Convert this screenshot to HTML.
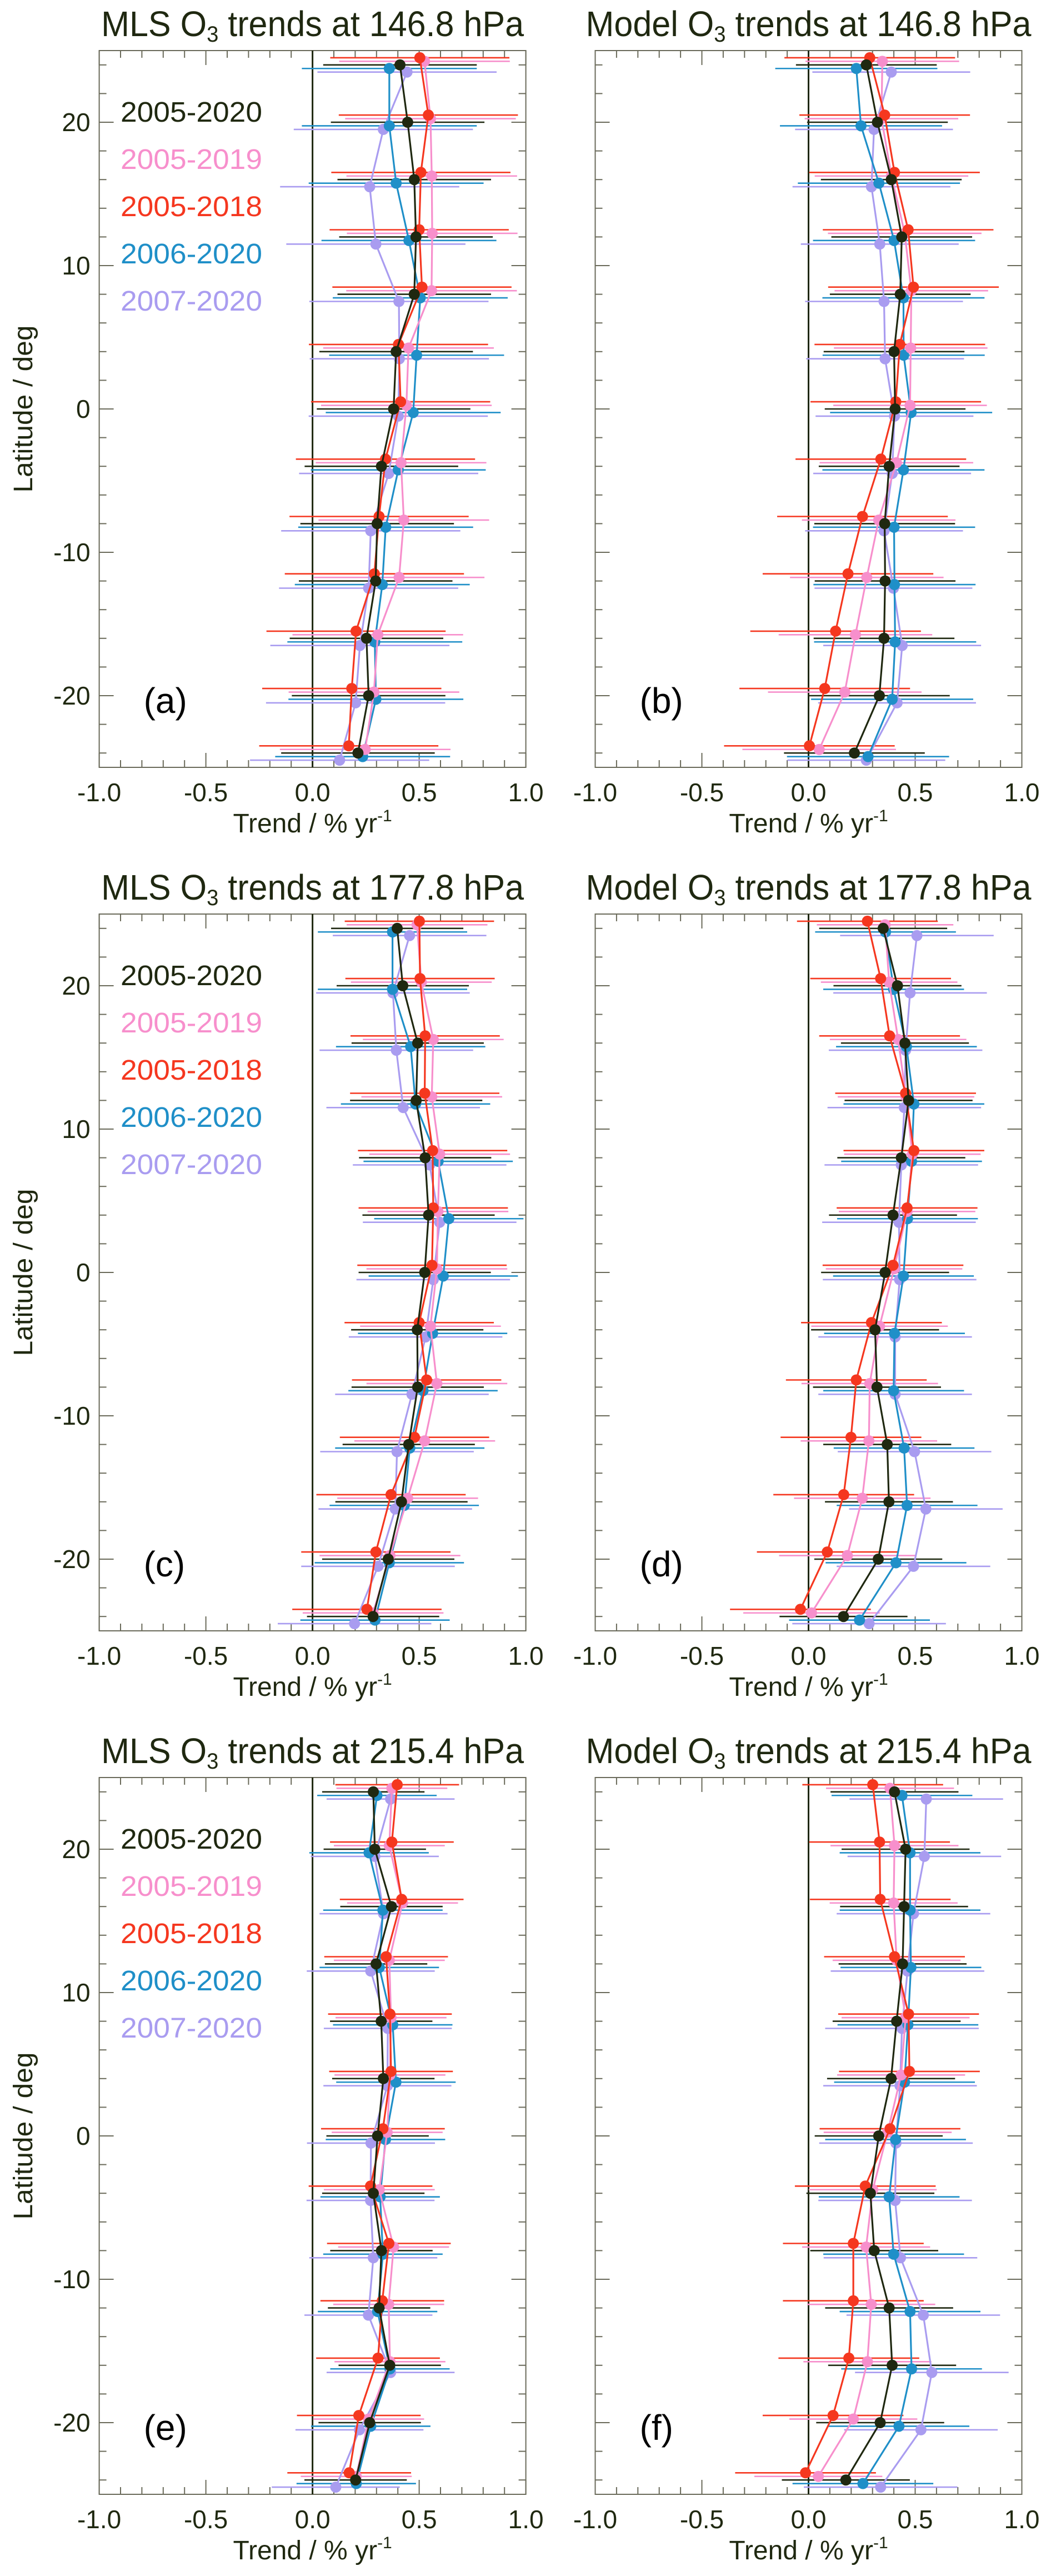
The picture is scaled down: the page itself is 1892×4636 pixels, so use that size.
<!DOCTYPE html>
<html><head><meta charset="utf-8"><style>
html,body{margin:0;padding:0;background:#fff;}
svg{display:block;font-family:"Liberation Sans",sans-serif;}
</style></head><body>
<svg id="fig" width="1892" height="4636" viewBox="0 0 1892 4636" xmlns="http://www.w3.org/2000/svg"></svg>
<script>
// Data: latitudes and trends (% / yr) per panel and series
const latitudes = [24,20,16,12,8,4,0,-4,-8,-12,-16,-20,-24];
const seriesNames = ["2005-2020","2005-2019","2005-2018","2006-2020","2007-2020"];
const xTicks = [-1.0,-0.5,0.0,0.5,1.0];
const xTickLabels = ["-1.0","-0.5","0.0","0.5","1.0"];
const yTicks = [20,10,0,-10,-20];
const yTickLabels = ["20","10","0","-10","-20"];
const panelTitles = ["MLS O3 trends at 146.8 hPa","Model O3 trends at 146.8 hPa","MLS O3 trends at 177.8 hPa","Model O3 trends at 177.8 hPa","MLS O3 trends at 215.4 hPa","Model O3 trends at 215.4 hPa"];
const panelLetters = ["(a)","(b)","(c)","(d)","(e)","(f)"];

// panel a
const aBlack  = [0.41,0.446,0.477,0.485,0.477,0.392,0.38,0.323,0.303,0.296,0.253,0.263,0.213];
const aPink   = [0.525,0.553,0.559,0.561,0.558,0.45,0.44,0.415,0.428,0.406,0.306,0.288,0.247];
const aRed    = [0.503,0.543,0.508,0.5,0.513,0.403,0.413,0.342,0.312,0.29,0.204,0.184,0.17];
const aBlue   = [0.36,0.36,0.392,0.452,0.505,0.488,0.472,0.402,0.343,0.327,0.292,0.297,0.235];
const aPurple = [0.443,0.332,0.268,0.297,0.405,0.407,0.402,0.357,0.273,0.263,0.222,0.202,0.127];
const aErr    = [0.36,0.4,0.42,0.41,0.42];
// panel b
const bBlack  = [0.271,0.323,0.388,0.437,0.43,0.401,0.406,0.378,0.357,0.359,0.354,0.332,0.215];
const bPink   = [0.346,0.342,0.389,0.451,0.482,0.479,0.476,0.412,0.329,0.273,0.22,0.17,0.05];
const bRed    = [0.287,0.357,0.403,0.467,0.492,0.428,0.409,0.339,0.253,0.185,0.127,0.076,0.004];
const bBlue   = [0.224,0.246,0.33,0.401,0.445,0.446,0.481,0.445,0.401,0.403,0.406,0.392,0.279];
const bPurple = [0.388,0.307,0.295,0.334,0.354,0.359,0.403,0.392,0.354,0.398,0.439,0.415,0.271];
const bErr    = [0.33,0.36,0.4,0.38,0.37];
// panel c
const cBlack  = [0.397,0.423,0.493,0.486,0.528,0.544,0.526,0.491,0.493,0.451,0.417,0.355,0.284];
const cPink   = [0.49,0.51,0.566,0.559,0.596,0.588,0.583,0.553,0.583,0.526,0.446,0.363,0.284];
const cRed    = [0.501,0.504,0.528,0.526,0.563,0.566,0.56,0.5,0.535,0.478,0.368,0.297,0.255];
const cBlue   = [0.375,0.375,0.46,0.483,0.589,0.639,0.613,0.563,0.518,0.456,0.43,0.36,0.293];
const cPurple = [0.455,0.377,0.393,0.425,0.549,0.596,0.566,0.53,0.466,0.396,0.388,0.307,0.197];
const cErr    = [0.31,0.33,0.35,0.35,0.36];
// panel d
const dBlack  = [0.35,0.417,0.452,0.469,0.435,0.396,0.359,0.312,0.321,0.369,0.377,0.327,0.164];
const dPink   = [0.359,0.378,0.42,0.457,0.487,0.462,0.401,0.333,0.287,0.283,0.252,0.182,0.014];
const dRed    = [0.276,0.338,0.38,0.455,0.494,0.462,0.396,0.295,0.224,0.199,0.165,0.088,-0.038];
const dBlue   = [0.361,0.399,0.459,0.494,0.483,0.464,0.445,0.403,0.399,0.448,0.462,0.41,0.239];
const dPurple = [0.508,0.476,0.455,0.449,0.435,0.424,0.427,0.406,0.406,0.497,0.55,0.492,0.284];
const dErr    = [0.3,0.32,0.33,0.33,0.36];
// panel e
const eBlack  = [0.285,0.292,0.37,0.298,0.322,0.332,0.305,0.285,0.323,0.312,0.362,0.268,0.202];
const ePink   = [0.372,0.36,0.422,0.36,0.368,0.363,0.35,0.313,0.38,0.357,0.363,0.263,0.205];
const eRed    = [0.397,0.372,0.418,0.345,0.363,0.368,0.33,0.272,0.358,0.327,0.307,0.217,0.172];
const eBlue   = [0.302,0.265,0.33,0.313,0.376,0.391,0.342,0.317,0.33,0.305,0.363,0.273,0.205];
const ePurple = [0.366,0.292,0.333,0.273,0.353,0.351,0.274,0.272,0.285,0.262,0.366,0.22,0.109];
const eErr    = [0.24,0.26,0.29,0.28,0.3];
// panel f
const fBlack  = [0.403,0.455,0.448,0.441,0.413,0.387,0.329,0.29,0.308,0.378,0.392,0.336,0.175];
const fPink   = [0.382,0.403,0.399,0.413,0.455,0.434,0.371,0.301,0.27,0.294,0.276,0.21,0.046];
const fRed    = [0.301,0.333,0.336,0.403,0.469,0.473,0.382,0.266,0.21,0.21,0.189,0.115,-0.014];
const fBlue   = [0.438,0.476,0.476,0.48,0.466,0.45,0.408,0.378,0.399,0.476,0.483,0.424,0.255];
const fPurple = [0.552,0.543,0.492,0.464,0.438,0.429,0.41,0.406,0.431,0.538,0.578,0.527,0.338];
const fErr    = [0.3,0.3,0.33,0.33,0.36];

const panelsData = [
  [aBlack,aPink,aRed,aBlue,aPurple,aErr],
  [bBlack,bPink,bRed,bBlue,bPurple,bErr],
  [cBlack,cPink,cRed,cBlue,cPurple,cErr],
  [dBlack,dPink,dRed,dBlue,dPurple,dErr],
  [eBlack,ePink,eRed,eBlue,ePurple,eErr],
  [fBlack,fPink,fRed,fBlue,fPurple,fErr]
];

const colors = ["#1f2810","#f78fcc","#f5371f","#1f8fc8","#a99cf0"];
const latOffsets = [0,0.25,0.5,-0.25,-0.5];
const seriesKeys = ["black","pink","red","blue","purple"];
const NS = "http://www.w3.org/2000/svg";
const svg = document.getElementById("fig");
function mk(tag, attrs, parent){
  const e = document.createElementNS(NS, tag);
  for (const k in attrs) e.setAttribute(k, attrs[k]);
  (parent||svg).appendChild(e);
  return e;
}
const rowTops = [91,1645,3199];
const colLefts = [178.6,1071.5];
const PW = 768, PH = 1290;
const titleLens = [761,802];

for (let p=0;p<6;p++){
  const row = Math.floor(p/2), col = p%2;
  const L = colLefts[col], T = rowTops[row];
  const xS = v => L + (v+1)/2*PW;
  const yS = lat => T + (25-lat)/50*PH;
  const g = mk("g",{});
  
  

  const t = mk("text",{x:L+PW/2,y:T-26,"text-anchor":"middle","font-size":64,fill:"#1f2810",textLength:titleLens[col],lengthAdjust:"spacingAndGlyphs"},g);
  
  
  const parts = panelTitles[p].split("O3");
  t.appendChild(document.createTextNode(parts[0]+"O"));
  const sub = mk("tspan",{"font-size":40,dy:10},t); sub.textContent="3";
  const rest = mk("tspan",{dy:-10},t); rest.textContent = parts[1];

  const fr = mk("rect",{x:L,y:T,width:PW,height:PH,fill:"none",stroke:"#6a6a5a","stroke-width":2},g);
  
  

  for (let i=0;i<=20;i++){
    const v = -1 + i*0.1; const x = xS(v);
    const len = (i%5===0)?26:13;
    mk("line",{x1:x,y1:T+PH,x2:x,y2:T+PH-len,stroke:"#6a6a5a","stroke-width":2},g);
    mk("line",{x1:x,y1:T,x2:x,y2:T+len,stroke:"#6a6a5a","stroke-width":2},g);
  }
  for (let lat=-24;lat<=24;lat+=2){
    const y = yS(lat); const len = (lat%10===0)?26:13;
    mk("line",{x1:L,y1:y,x2:L+len,y2:y,stroke:"#6a6a5a","stroke-width":2},g);
    mk("line",{x1:L+PW,y1:y,x2:L+PW-len,y2:y,stroke:"#6a6a5a","stroke-width":2},g);
  }
  xTicks.forEach((v,i)=>{
    const tl = mk("text",{x:xS(v),y:T+PH+61,"text-anchor":"middle","font-size":46,fill:"#1f2810"},g);
    
    
    tl.textContent = xTickLabels[i];
  });
  const xt = mk("text",{x:L+PW/2,y:T+PH+117,"text-anchor":"middle","font-size":48,fill:"#1f2810"},g);
  
  
  xt.appendChild(document.createTextNode("Trend / % yr"));
  const sup = mk("tspan",{"font-size":30,dy:-20},xt); sup.textContent="-1";

  if (col===0){
    yTicks.forEach((v,i)=>{
      const yl = mk("text",{x:L-16,y:yS(v)+16,"text-anchor":"end","font-size":46,fill:"#1f2810"},g);
      
      
      yl.textContent = yTickLabels[i];
    });
    const yt = mk("text",{x:0,y:0,"text-anchor":"middle","font-size":48,fill:"#1f2810",textLength:301,lengthAdjust:"spacingAndGlyphs",transform:`translate(58,${T+PH/2}) rotate(-90)`},g);
    
    
    yt.textContent = "Latitude / deg";
    seriesNames.forEach((n,i)=>{
      const le = mk("text",{x:217,y:T+128+i*85,"font-size":51,fill:colors[i],textLength:255,lengthAdjust:"spacingAndGlyphs"},g);
      
      
      le.textContent = n;
    });
  }
  const pl = mk("text",{x:L+80,y:T+PH-98,"font-size":64,fill:"#000"},g);
  
  
  pl.textContent = panelLetters[p];

  const zl = mk("line",{x1:xS(0),y1:T,x2:xS(0),y2:T+PH,stroke:"#1f2810","stroke-width":3},g);
  
  

  const d = panelsData[p];
  const errs = d[5];
  const order = [4,3,1,2,0];
  order.forEach(s=>{
    d[s].forEach((v,i)=>{
      const y = yS(latitudes[i]+latOffsets[s]);
      const eb = mk("line",{x1:xS(v-errs[s]),y1:y,x2:xS(v+errs[s]),y2:y,stroke:colors[s],"stroke-width":2.6},g);
      
      
    });
  });
  order.forEach(s=>{
    const pts = d[s].map((v,i)=>xS(v)+","+yS(latitudes[i]+latOffsets[s])).join(" ");
    const pl2 = mk("polyline",{points:pts,fill:"none",stroke:colors[s],"stroke-width":3.2},g);
    
    
    d[s].forEach((v,i)=>{
      const c = mk("circle",{cx:xS(v),cy:yS(latitudes[i]+latOffsets[s]),r:10,fill:colors[s]},g);
      
      
    });
  });
}
</script>
</body></html>
